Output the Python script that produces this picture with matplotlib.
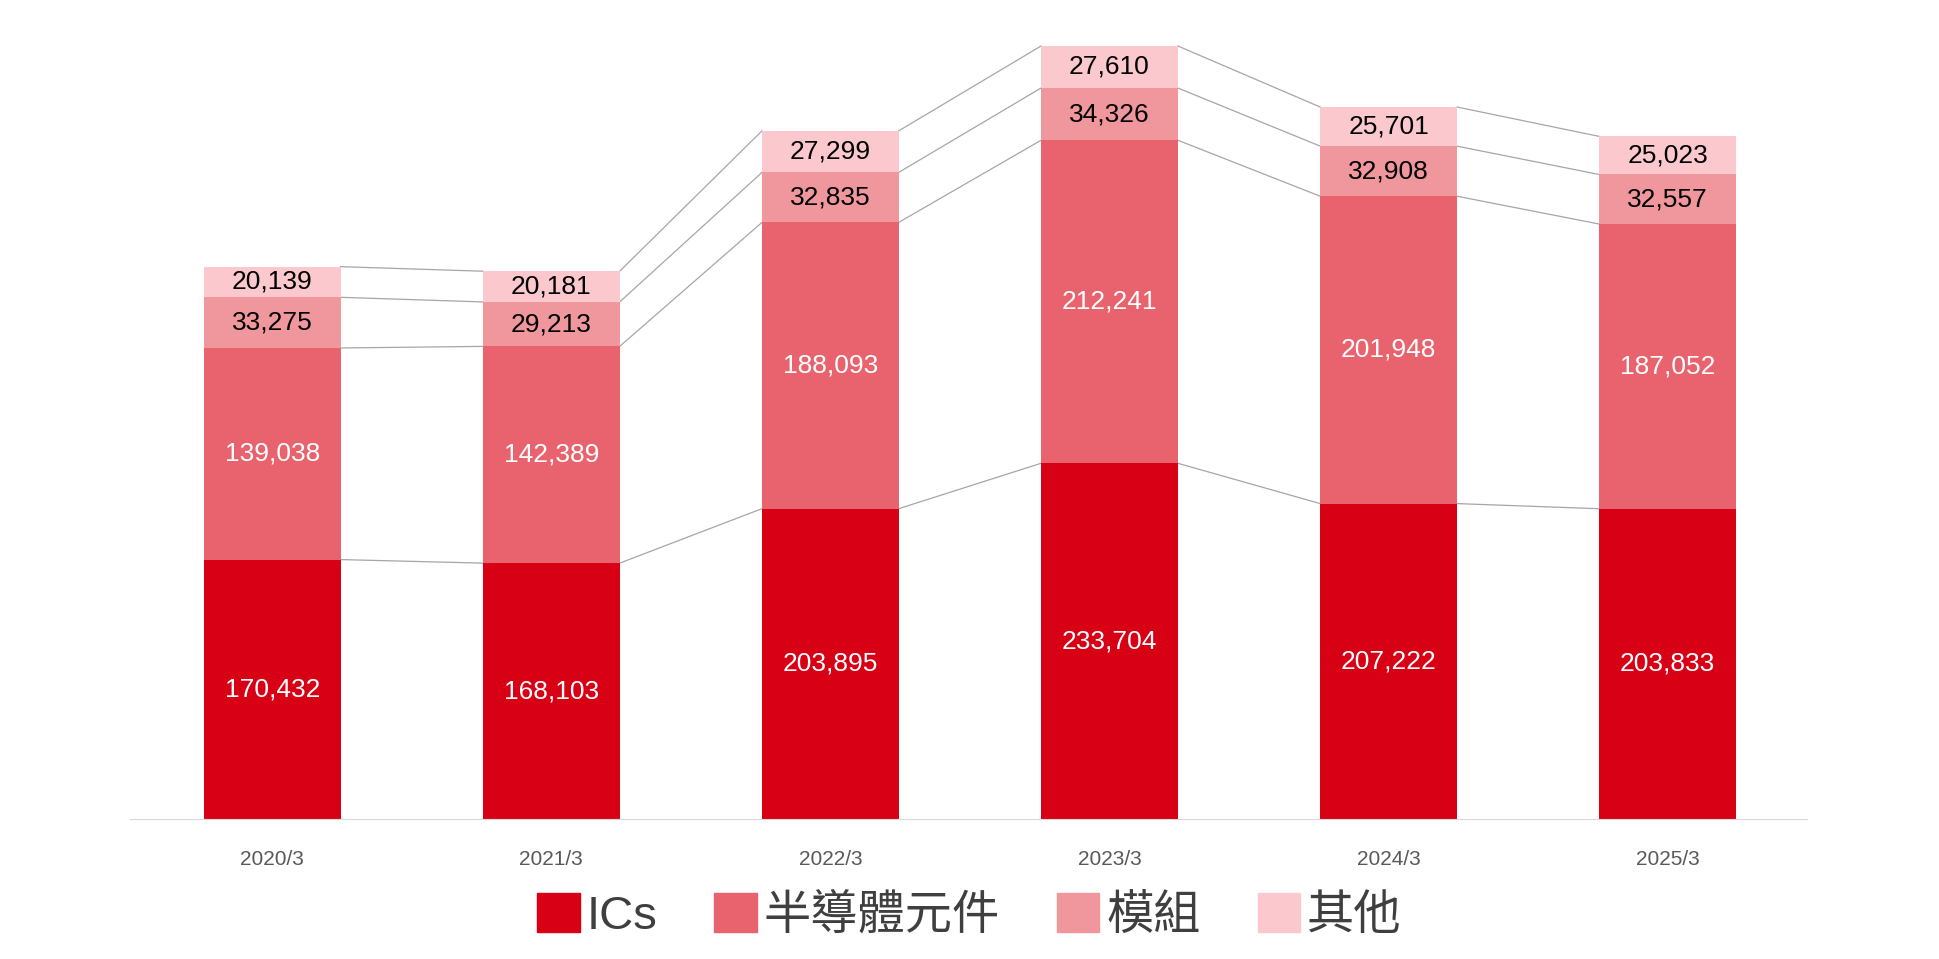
import matplotlib
matplotlib.use("Agg")
import matplotlib.pyplot as plt
import numpy as np
from matplotlib.patches import Patch

plt.rcParams['font.family'] = ['Liberation Sans', 'Noto Sans CJK TC', 'DejaVu Sans']

years = ["2020/3", "2021/3", "2022/3", "2023/3", "2024/3", "2025/3"]
ics = [170432, 168103, 203895, 233704, 207222, 203833]
semi = [139038, 142389, 188093, 212241, 201948, 187052]
module = [33275, 29213, 32835, 34326, 32908, 32557]
other = [20139, 20181, 27299, 27610, 25701, 25023]
names = ["ICs", "半導體元件", "模組", "其他"]
colors = ["#D70015", "#E8636E", "#F0979E", "#FAC8CD"]
txtc = ["white", "white", "black", "black"]

fig = plt.figure(figsize=(19.39, 9.59), dpi=100)
ax = fig.add_axes([0.067, 0.146, 0.865, 0.828])
x = np.arange(len(years))
w = 0.49
bottom = np.zeros(len(years))
series = [ics, semi, module, other]
for vals, c, tc in zip(series, colors, txtc):
    v = np.array(vals, float)
    ax.bar(x, v, w, bottom=bottom, color=c, zorder=2)
    for xi, b, vi in zip(x, bottom, v):
        ax.text(xi, b + vi / 2, f"{int(vi):,}", ha='center', va='center', color=tc, fontsize=19, zorder=3)
    bottom = bottom + v
    for i in range(len(x) - 1):
        ax.plot([x[i] + w / 2, x[i + 1] - w / 2], [bottom[i], bottom[i + 1]], color='#A6A6A6', lw=0.9, zorder=1)

ax.set_xlim(-0.51, 5.5)
ax.set_ylim(0, 521700)
ax.set_yticks([])
for s in ['top', 'right', 'left']:
    ax.spines[s].set_visible(False)
ax.spines['bottom'].set_color('#D9D9D9')
ax.set_xticks(x)
ax.set_xticklabels(years, fontsize=15, color='#595959')
ax.tick_params(axis='x', length=0, pad=22)

handles = [Patch(color=c) for c in colors]
fig.legend(handles, names, loc='center', bbox_to_anchor=(0.5, 0.045), ncol=4, frameon=False,
           fontsize=34, labelcolor='#3F3F3F', handlelength=0.9, handleheight=0.9,
           handletextpad=0.15, columnspacing=1.2)
fig.savefig("out.png", dpi=100)
